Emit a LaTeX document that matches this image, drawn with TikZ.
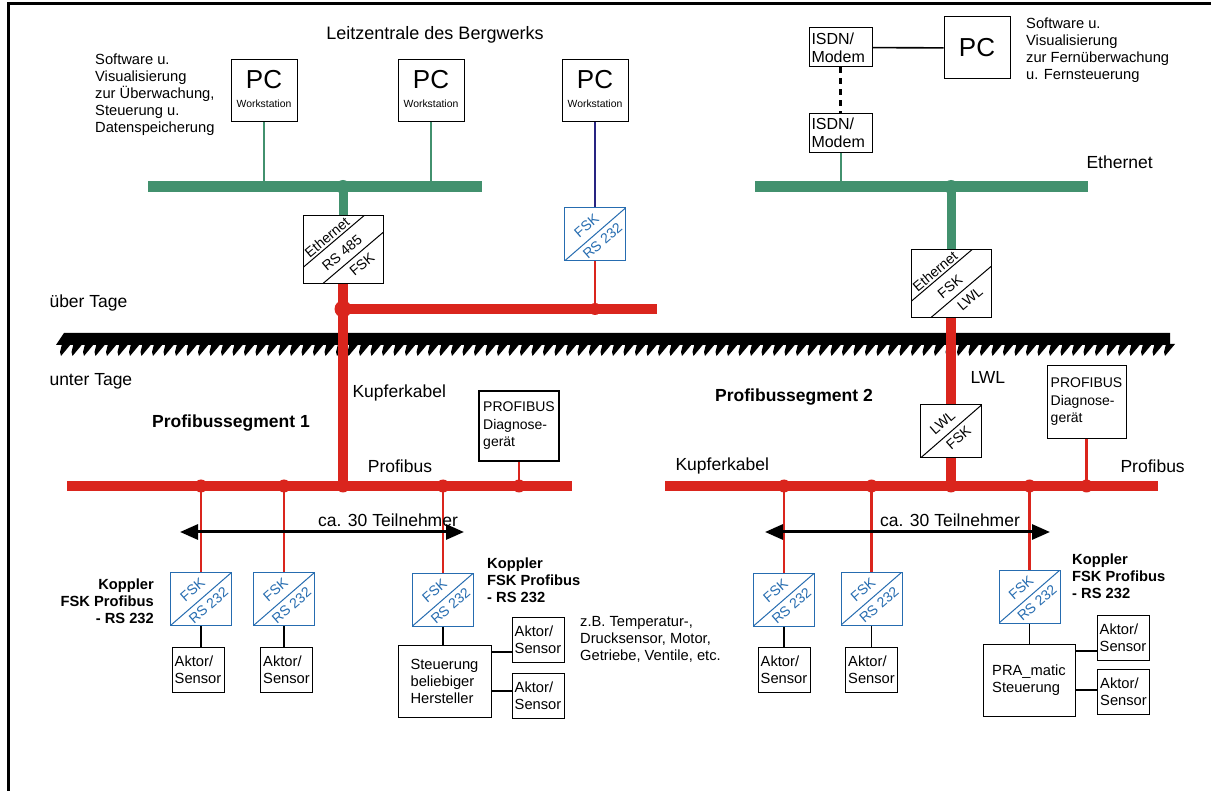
\documentclass[tikz,border=0pt]{standalone}
\usepackage{fontspec}
\setmainfont{Liberation Sans}
\usetikzlibrary{arrows.meta,positioning}
\definecolor{busgreen}{RGB}{66,145,110}
\definecolor{busred}{RGB}{218,37,29}
\definecolor{fskblue}{RGB}{38,108,176}
\definecolor{lanblue}{RGB}{40,36,130}
\newcommand{\fsz}[2]{\fontsize{#1}{#2}\selectfont}
\tikzstyle{ethbus} = [line width=11pt, color=busgreen]
\tikzstyle{ethtrunk} = [line width=9pt, color=busgreen]
\tikzstyle{ethdrop} = [line width=2pt, color=busgreen]
\tikzstyle{pbus} = [line width=10pt, color=busred]
\tikzstyle{pdrop} = [line width=2.2pt, color=busred]
\tikzstyle{wire} = [line width=1.3pt]
\tikzstyle{box} = [draw, line width=1pt, fill=white, align=left, inner sep=2pt, font=\fsz{14.7}{17}]
\tikzstyle{aktor} = [box, minimum width=52pt, minimum height=45pt]
\tikzstyle{lbl} = [font=\fsz{17.5}{20}]
\tikzstyle{seg} = [font=\bfseries\fsz{17.5}{20}]
\tikzstyle{note} = [align=left, inner sep=0pt, font=\fsz{14.7}{17}]
\tikzstyle{koppler} = [inner sep=0pt, font=\bfseries\fsz{14.7}{17}]
\tikzstyle{convtext} = [inner sep=0pt, font=\fsz{14}{15}]
\tikzstyle{countarrow} = [line width=3pt, {Triangle[length=18pt,width=15pt]}-{Triangle[length=18pt,width=15pt]}]
\tikzset{
  pc/.style={draw, line width=1pt, fill=white, minimum width=66pt, minimum height=62pt,
    label={[font=\fsz{26}{26}, yshift=11pt]center:PC},
    label={[font=\fsz{10.4}{12}, yshift=-13pt]center:Workstation}},
  duobox/.style n args={3}{draw=#1, line width=1pt, fill=white, minimum width=61pt, minimum height=53pt, inner sep=0pt,
    path picture={\draw[#1, line width=1pt] (path picture bounding box.south west) -- (path picture bounding box.north east);},
    label={[convtext, text=#1, xshift=-8.5pt, yshift=9pt, rotate=41]center:#2},
    label={[convtext, text=#1, xshift=7.5pt, yshift=-6.5pt, rotate=41]center:#3}},
  fsk/.style={duobox={fskblue}{FSK}{RS 232}},
  tribox/.style n args={3}{draw, line width=1pt, fill=white, minimum width=80pt, minimum height=68pt, inner sep=0pt,
    path picture={
      \draw[line width=1pt] ([yshift=16.5pt]path picture bounding box.south west) -- ([yshift=16.5pt]path picture bounding box.north east);
      \draw[line width=1pt] ([yshift=-16.5pt]path picture bounding box.south west) -- ([yshift=-16.5pt]path picture bounding box.north east);},
    label={[convtext, xshift=-16pt, yshift=12.5pt, rotate=40]center:#1},
    label={[convtext, xshift=-1pt, yshift=-3pt, rotate=40]center:#2},
    label={[convtext, xshift=19pt, yshift=-14.5pt, rotate=40]center:#3}}
}
\begin{document}
\begin{tikzpicture}[x=1pt, y=-1pt]
\useasboundingbox (0,0) rectangle (1211,791);
% Rahmen
\draw[line width=3pt] (8,791) -- (8,4) -- (1211,4);

% Grenze ueber / unter Tage
\fill (56,345) -- (64,333) -- (1170,333) -- (1170,345) -- cycle;
\foreach \x in {62,73.5,...,1166} \fill (\x,344) -- ++(9,0) -- ++(-10,12) -- ++(-1,-4) -- cycle;
\node[lbl, anchor=west] (ueber) at (46,303) {über Tage};
\node[lbl, anchor=west] (unter) at (46,381) {unter Tage};

% Leitzentrale
\node[font=\fsz{18}{20}] (title) at (435,35) {Leitzentrale des Bergwerks};
\node[note, anchor=north west] (swA) at (95,53.5) {Software u.\\Visualisierung\\zur Überwachung,\\Steuerung u.\\Datenspeicherung};
\node[pc] (pcA) at (264,91) {};
\node[pc] (pcB) at (431,91) {};
\node[pc] (pcC) at (595,91) {};

\coordinate (ethA-w) at (148,187);
\coordinate (ethA-e) at (482,187);
\draw[ethbus] (ethA-w) -- (ethA-e);
\node[tribox={Ethernet}{RS 485}{FSK}] (convA) at (343,250) {};
\draw[ethdrop] (pcA) -- (pcA |- ethA-w);
\draw[ethdrop] (pcB) -- (pcB |- ethA-w);
\draw[ethtrunk] (convA) -- (convA |- ethA-w);
\fill[busgreen] (pcA |- ethA-w) circle (5) (pcB |- ethA-w) circle (5) (convA |- ethA-w) circle (7);

\node[fsk] (convB) at (595,234.5) {};
\draw[lanblue, line width=2pt] (pcC) -- (convB);

% Kupferkabel ueber Tage
\coordinate (cuA-e) at (657,309);
\coordinate (pbA-w) at (67,486);
\coordinate (pbA-e) at (572,486);
\draw[pbus] (convA |- cuA-e) -- (cuA-e);
\draw[pbus] (convA) -- (convA |- pbA-w);
\draw[pdrop] (convB) -- (convB |- cuA-e);
\fill[busred] (convA |- cuA-e) circle (8.5) (convB |- cuA-e) circle (6);

% Profibussegment 1
\draw[pbus] (pbA-w) -- (pbA-e);
\node[lbl, anchor=west] (cuA) at (349,393) {Kupferkabel};
\node[seg] (segA) at (231,423) {Profibussegment 1};
\node[box, line width=2.4pt, minimum width=80pt, minimum height=70pt, font=\fsz{14}{17.5}] (diagA) at (519,426) {PROFIBUS\\Diagnose-\\gerät};
\node[lbl] (pfA) at (400,466) {Profibus};
\node[fsk] (fsk1) at (201,599) {};
\node[fsk] (fsk2) at (284,599) {};
\node[fsk] (fsk3) at (443,599.5) {};
\draw[pdrop] (fsk1) -- (fsk1 |- pbA-w);
\draw[pdrop] (fsk2) -- (fsk2 |- pbA-w);
\draw[pdrop] (fsk3) -- (fsk3 |- pbA-w);
\draw[pdrop] (diagA) -- (diagA |- pbA-w);
\fill[busred] (fsk1 |- pbA-w) circle (6.5) (fsk2 |- pbA-w) circle (6.5) (convA |- pbA-w) circle (6.5)
  (fsk3 |- pbA-w) circle (6.5) (diagA |- pbA-w) circle (6.5);

\coordinate (tnA-w) at (180,532);
\coordinate (tnA-e) at (464,532);
\draw[countarrow] (tnA-w) -- (tnA-e);
\node[lbl] (tnA) at (388,520) {ca. 30 Teilnehmer};

\node[koppler, align=right, anchor=north east] (kopA) at (154,578.5) {Koppler\\FSK Profibus\\- RS 232};
\node[aktor] (akt1) at (198,669.5) {Aktor/\\Sensor};
\node[aktor] (akt2) at (286.5,669.5) {Aktor/\\Sensor};
\draw[line width=2.5pt] (fsk1) -- (fsk1 |- akt1.north);
\draw[wire] (fsk2) -- (fsk2 |- akt2.north);

\node[koppler, align=left, anchor=north west] (kopB) at (487,557.5) {Koppler\\FSK Profibus\\- RS 232};
\node[box, minimum width=93pt, minimum height=72pt] (steuA) at (444.5,681) {Steuerung\\beliebiger\\Hersteller};
\node[aktor] (akt3) at (538,639.5) {Aktor/\\Sensor};
\node[aktor] (akt4) at (538,695.5) {Aktor/\\Sensor};
\draw[wire] (fsk3) -- (fsk3 |- steuA.north);
\coordinate (jA) at ([yshift=-12.5pt]akt3.west);
\coordinate (jB) at ([yshift=4.5pt]akt4.west);
\draw[wire] (jA) -- (jA -| steuA.east);
\draw[wire] (jB) -- (jB -| steuA.east);
\node[note, anchor=north west] (zb) at (580,616.5) {z.B. Temperatur-,\\Drucksensor, Motor,\\Getriebe, Ventile, etc.};

% Fernwartung
\node[box, text width=58pt, inner sep=2.5pt, minimum height=39pt, font=\fsz{16}{18}] (isdnA) at (840.5,47.5) {ISDN/\\Modem};
\node[box, text width=58pt, inner sep=2.5pt, minimum height=39pt, font=\fsz{16}{18}] (isdnB) at (840.5,133) {ISDN/\\Modem};
\node[box, align=center, minimum width=66pt, minimum height=62pt, font=\fsz{26}{26}] (pcR) at (977,48) {PC};
\draw[line width=1.6pt] (isdnA) -- (pcR);
\draw[line width=2.5pt, dash pattern=on 6pt off 5pt] (isdnA) -- (isdnB);
\node[note, anchor=north west] (swR) at (1026,17.5) {Software u.\\Visualisierung\\zur Fernüberwachung\\u. Fernsteuerung};
\node[lbl, anchor=west] (ethR) at (1083,162) {Ethernet};

\coordinate (ethB-w) at (755,187);
\coordinate (ethB-e) at (1088,187);
\draw[ethbus] (ethB-w) -- (ethB-e);
\node[tribox={Ethernet}{FSK}{LWL}] (convR) at (951,284) {};
\draw[ethdrop] (isdnB) -- (isdnB |- ethB-w);
\draw[ethtrunk] (convR) -- (convR |- ethB-w);
\fill[busgreen] (isdnB |- ethB-w) circle (5) (convR |- ethB-w) circle (7);

% Profibussegment 2
\coordinate (pbB-w) at (665,486);
\coordinate (pbB-e) at (1158,486);
\draw[pbus] (pbB-w) -- (pbB-e);
\node[duobox={black}{LWL}{FSK}] (lwlA) at (951,431.5) {};
\draw[pbus] (convR) -- (lwlA);
\draw[pbus] (lwlA) -- (lwlA |- pbB-w);
\node[lbl, anchor=west] (lwlL) at (967,377) {LWL};
\node[seg] (segB) at (794,397) {Profibussegment 2};
\node[box, minimum width=79pt, minimum height=73pt, font=\fsz{14}{17.5}] (diagB) at (1086.5,402) {PROFIBUS\\Diagnose-\\gerät};
\node[lbl, anchor=west] (cuB) at (672,466) {Kupferkabel};
\node[lbl, anchor=west] (pfB) at (1117,466) {Profibus};
\node[fsk] (fsk4) at (784,599.5) {};
\node[fsk] (fsk5) at (871.5,598.5) {};
\node[fsk] (fsk6) at (1029.5,596.5) {};
\draw[pdrop] (fsk4) -- (fsk4 |- pbB-w);
\draw[pdrop] (fsk5) -- (fsk5 |- pbB-w);
\draw[pdrop] (fsk6) -- (fsk6 |- pbB-w);
\draw[pdrop] (diagB) -- (diagB |- pbB-w);
\fill[busred] (fsk4 |- pbB-w) circle (6.5) (fsk5 |- pbB-w) circle (6.5) (lwlA |- pbB-w) circle (6.5)
  (fsk6 |- pbB-w) circle (6.5) (diagB |- pbB-w) circle (6.5);

\coordinate (tnB-w) at (765,532);
\coordinate (tnB-e) at (1050,532);
\draw[countarrow] (tnB-w) -- (tnB-e);
\node[lbl] (tnB) at (950,520) {ca. 30 Teilnehmer};

\node[aktor] (akt5) at (784,670) {Aktor/\\Sensor};
\node[aktor] (akt6) at (871.5,669.5) {Aktor/\\Sensor};
\draw[wire] (fsk4) -- (fsk4 |- akt5.north);
\draw[wire] (fsk5) -- (fsk5 |- akt6.north);

\node[koppler, align=left, anchor=north west] (kopC) at (1072,553.5) {Koppler\\FSK Profibus\\- RS 232};
\node[box, minimum width=92pt, minimum height=72pt] (praA) at (1029,680) {PRA\_matic\\Steuerung};
\node[aktor] (akt7) at (1123,638) {Aktor/\\Sensor};
\node[aktor] (akt8) at (1123.5,692) {Aktor/\\Sensor};
\draw[wire] (fsk6) -- (fsk6 |- praA.north);
\coordinate (jC) at ([yshift=-13pt]akt7.west);
\coordinate (jD) at ([yshift=2pt]akt8.west);
\draw[wire] (jC) -- (jC -| praA.east);
\draw[wire] (jD) -- (jD -| praA.east);
\end{tikzpicture}
\end{document}
